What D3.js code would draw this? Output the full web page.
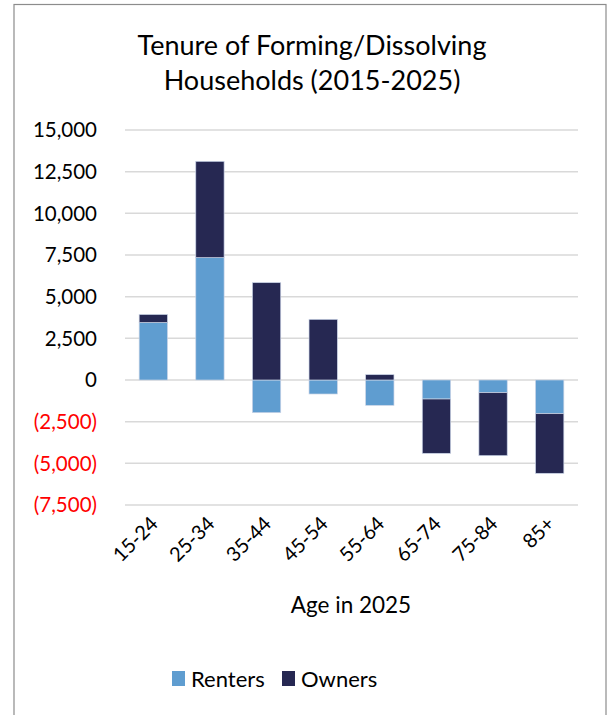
<!DOCTYPE html>
<html><head><meta charset="utf-8">
<script src="https://cdn.jsdelivr.net/npm/d3@7"></script>
<style>body{margin:0;background:#fff}svg{display:block}text{font-family:Lato,"Open Sans",sans-serif}</style>
</head><body>
<script>
const categories = ["15-24","25-34","35-44","45-54","55-64","65-74","75-84","85+"];
const renters = [3450, 7340, -1960, -840, -1520, -1140, -760, -2020];
const owners  = [480, 5780, 5840, 3640, 320, -3260, -3780, -3580];
const yTicks = [15000,12500,10000,7500,5000,2500,0,-2500,-5000,-7500];
const seriesNames = ["Renters","Owners"];
const colors = ["#5f9dd0","#262852"];

const W=607,H=715;
const svg=d3.select("body").append("svg").attr("width",W).attr("height",H);
svg.append("rect").attr("x",14).attr("y",4.5).attr("width",592).attr("height",720)
  .attr("fill","#fff").attr("stroke","#8c8c8c").attr("stroke-width",1.2);

const x=d3.scaleBand().domain(categories).range([125,578]).paddingInner(0.5).paddingOuter(0.25);
const y=d3.scaleLinear().domain([-7500,15000]).range([505,130]);

// grid
svg.append("g").selectAll("line").data(yTicks).join("line")
  .attr("x1",125).attr("x2",578).attr("y1",d=>y(d)).attr("y2",d=>y(d))
  .attr("stroke","#d9d9d9").attr("stroke-width",1.5);

// y labels
const fmt=d3.format(",");
svg.append("g").selectAll("text").data(yTicks).join("text")
  .attr("x",97).attr("y",d=>y(d)).attr("dy","0.36em").attr("text-anchor","end")
  .attr("font-size",20.5).attr("fill",d=>d<0?"#ff0000":"#000")
  .text(d=>d<0?"("+fmt(-d)+")":fmt(d));

// stacked bars (positive/negative stacking)
const data=categories.map((c,i)=>({c,Renters:renters[i],Owners:owners[i]}));
const stack=d3.stack().keys(seriesNames).offset(d3.stackOffsetDiverging);
const layers=stack(data);
svg.append("g").selectAll("g").data(layers).join("g").attr("fill",(d,i)=>colors[i])
  .selectAll("rect").data(d=>d).join("rect")
  .attr("x",d=>x(d.data.c)).attr("width",x.bandwidth())
  .attr("y",d=>y(Math.max(d[0],d[1]))).attr("height",d=>Math.abs(y(d[0])-y(d[1])))
  .attr("stroke","#c9d3e6").attr("stroke-width",0.7);

// x labels rotated
svg.append("g").selectAll("text").data(categories).join("text")
  .attr("transform",d=>`translate(${x(d)+x.bandwidth()/2+6},${525}) rotate(-45)`)
  .attr("text-anchor","end").attr("font-size",20).attr("fill","#000").text(d=>d);

svg.append("text").attr("x",351).attr("y",613).attr("text-anchor","middle")
  .attr("font-size",22.5).text("Age in 2025");

// title
const title=["Tenure of Forming/Dissolving","Households (2015-2025)"];
svg.append("g").selectAll("text").data(title).join("text")
  .attr("x",312).attr("y",(d,i)=>55+i*35).attr("text-anchor","middle")
  .attr("font-size",27).attr("fill","#000").text(d=>d);

// legend
const lg=svg.append("g");
const lx=[172,282];
seriesNames.forEach((s,i)=>{
  lg.append("rect").attr("x",lx[i]).attr("y",671).attr("width",13).attr("height",15).attr("fill",colors[i]);
  lg.append("text").attr("x",lx[i]+19).attr("y",687).attr("font-size",22).text(s);
});
</script>
</body></html>
